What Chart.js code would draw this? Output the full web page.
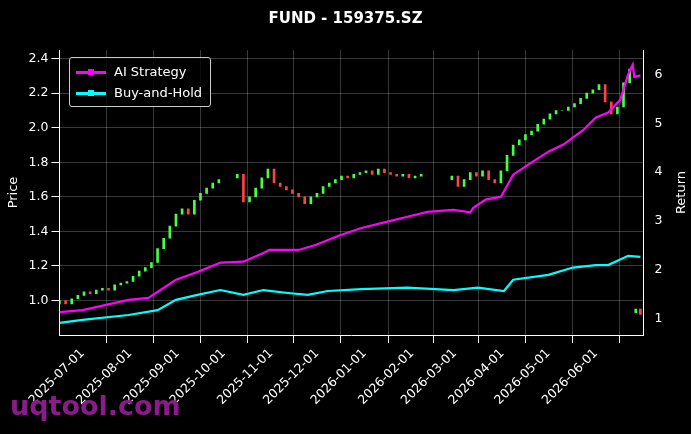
<!DOCTYPE html>
<html>
<head>
<meta charset="utf-8">
<script src="https://cdn.jsdelivr.net/npm/chart.js@4.4.1/dist/chart.umd.min.js"></script>
<style>
  body { margin: 0; background: #000; }
  #wrap { position: relative; width: 691px; height: 434px; }
  #legend { position: absolute; left: 69px; top: 57px; border: 1px solid #ccc; border-radius: 3px;
    background: rgba(0,0,0,0.8); padding: 3px 8px 3px 6px; font: 13px "DejaVu Sans"; color: #fff; }
  #legend div { height: 21px; line-height: 21px; }
  #legend span { display: inline-block; width: 30px; height: 3px; vertical-align: middle; margin-right: 8px; position: relative; }
  #legend span i { position: absolute; left: 12px; top: -2px; width: 6px; height: 6px; }
  #mark { position: absolute; left: 10px; top: 390px; font: bold 27px "DejaVu Sans"; color: #8a1c8a; }
</style>
</head>
<body>
<div id="wrap">
  <canvas id="c" width="691" height="434"></canvas>
  <div id="legend">
    <div><span style="background:#ff00ff"><i style="background:#ff00ff"></i></span>AI Strategy</div>
    <div><span style="background:#00ffff"><i style="background:#00ffff"></i></span>Buy-and-Hold</div>
  </div>
  <div id="mark">uqtool.com</div>
</div>
<script>
// days since 2025-07-01
const candleDays = [-15,-11,-7,-3,1,5,9,13,17,21,25,29,33,37,41,45,49,53,57,61,65,69,73,77,81,85,89,93,97,
  101,105,109,113,117,121,125,129,133,137,141,145,149,153,157,161,165,169,173,177,181,185,189,193,197,201,
  205,209,213,217,221,225,229,233,237,241,245,249,253,257,261,265,269,273,277,281,285,289,293,297,301,305,309,
  313,317,321,325,329,333,337,341,345,349,353,357,359,361,364];
const closes = [1.00,0.98,1.01,1.03,1.05,1.04,1.06,1.07,1.06,1.09,1.10,1.11,1.14,1.17,1.19,1.22,1.30,1.36,1.43,1.50,1.53,1.50,1.58,1.62,1.65,1.68,1.70,null,null,
  1.73,1.57,1.60,1.65,1.71,1.76,1.68,1.66,1.64,1.62,1.60,1.56,1.60,1.62,1.66,1.68,1.70,1.72,1.71,1.73,1.74,1.75,1.73,1.76,1.74,1.73,
  1.72,1.73,1.71,1.72,1.73,null,null,null,null,1.72,1.66,1.70,1.74,1.72,1.75,1.70,1.68,1.75,1.84,1.90,1.93,1.96,1.98,2.02,2.05,2.08,2.10,
  2.10,2.12,2.14,2.17,2.20,2.22,2.25,2.15,2.08,2.12,2.26,2.34,null,0.95,0.92];

const aiDays = [-15,0,30,43,61,75,90,105,118,122,141,153,167,182,199,212,225,242,253,255,263,273,281,291,304,314,327,335,343,351,356,359,360,364];
const aiReturn = [1.14,1.18,1.39,1.43,1.80,1.96,2.15,2.17,2.35,2.41,2.41,2.52,2.70,2.86,2.99,3.09,3.19,3.23,3.18,3.27,3.44,3.50,3.95,4.16,4.42,4.57,4.87,5.12,5.22,5.49,6.0,6.2,5.95,5.98];
const bhDays = [-15,0,30,49,61,75,90,105,118,134,147,160,182,212,242,258,275,281,304,320,335,343,356,364];
const bhReturn = [0.92,0.98,1.08,1.18,1.39,1.49,1.59,1.49,1.59,1.53,1.49,1.57,1.61,1.64,1.59,1.64,1.57,1.80,1.90,2.05,2.10,2.10,2.29,2.27];

const tickDays = [0,31,62,92,123,153,184,215,243,274,304,335];
const tickLabels = ['2025-07-01','2025-08-01','2025-09-01','2025-10-01','2025-11-01','2025-12-01',
  '2026-01-01','2026-02-01','2026-03-01','2026-04-01','2026-05-01','2026-06-01'];

const candles = [];
let prev = null;
candleDays.forEach((d, i) => {
  const c = closes[i];
  if (c == null) { prev = null; return; }
  const o = prev == null ? c - 0.02 : prev;
  candles.push({ x: d, y: [o, c], up: c >= o });
  prev = c;
});

// right-axis title reading bottom-to-top
const returnTitle = {
  id: 'returnTitle',
  afterDraw(chart) {
    const a = chart.scales.y2, ctx = chart.ctx;
    ctx.save();
    ctx.translate(a.right - 4, (a.top + a.bottom) / 2);
    ctx.rotate(-Math.PI / 2);
    ctx.fillStyle = '#fff';
    ctx.font = '13px "DejaVu Sans"';
    ctx.textAlign = 'center';
    ctx.fillText('Return', 0, 0);
    ctx.restore();
  }
};

Chart.defaults.font.family = 'DejaVu Sans';
Chart.defaults.color = '#fff';
const grid = { color: 'rgba(255,255,255,0.22)', borderDash: [3, 3], tickColor: '#fff', drawTicks: true };

new Chart(document.getElementById('c'), {
  type: 'bar',
  data: {
    datasets: [
      { label: 'Candles', data: candles, yAxisID: 'y', order: 3, barThickness: 2,
        backgroundColor: candles.map(p => p.up ? '#44ff44' : '#ff4444') },
      { type: 'line', label: 'AI Strategy', data: aiDays.map((d, i) => ({ x: d, y: aiReturn[i] })),
        yAxisID: 'y2', borderColor: '#ff00ff', borderWidth: 2.2, pointRadius: 0, order: 1 },
      { type: 'line', label: 'Buy-and-Hold', data: bhDays.map((d, i) => ({ x: d, y: bhReturn[i] })),
        yAxisID: 'y2', borderColor: '#00ffff', borderWidth: 2.2, pointRadius: 0, order: 2 }
    ]
  },
  options: {
    responsive: false, animation: false,
    layout: { padding: { left: 2, right: 2, top: 4, bottom: 23 } },
    plugins: {
      legend: { display: false },
      tooltip: { enabled: false },
      title: { display: true, text: 'FUND - 159375.SZ', color: '#fff', font: { size: 15, weight: 'bold' }, padding: { top: 6, bottom: 22 } }
    },
    scales: {
      x: { type: 'linear', min: -15, max: 366, offset: false,
        grid: grid, border: { color: '#fff', width: 1 },
        afterBuildTicks: s => { s.ticks = tickDays.map(v => ({ value: v })); },
        ticks: { maxRotation: 45, minRotation: 45, font: { size: 12.5 }, color: '#fff',
          callback: (v) => tickLabels[tickDays.indexOf(v)] } },
      y: { position: 'left', min: 0.8, max: 2.45, grid: grid, border: { color: '#fff' },
        afterBuildTicks: s => { s.ticks = [1.0,1.2,1.4,1.6,1.8,2.0,2.2,2.4].map(v => ({ value: v })); },
        ticks: { font: { size: 12.5 }, callback: v => v.toFixed(1) },
        title: { display: true, text: 'Price', font: { size: 13 } } },
      y2: { position: 'right', min: 0.67, max: 6.5, grid: { display: false }, border: { color: '#fff' },
        afterBuildTicks: s => { s.ticks = [1,2,3,4,5,6].map(v => ({ value: v })); },
        ticks: { font: { size: 12.5 } },
        title: { display: true, text: ' ', font: { size: 13 } } }
    }
  },
  plugins: [returnTitle]
});
</script>
</body>
</html>
